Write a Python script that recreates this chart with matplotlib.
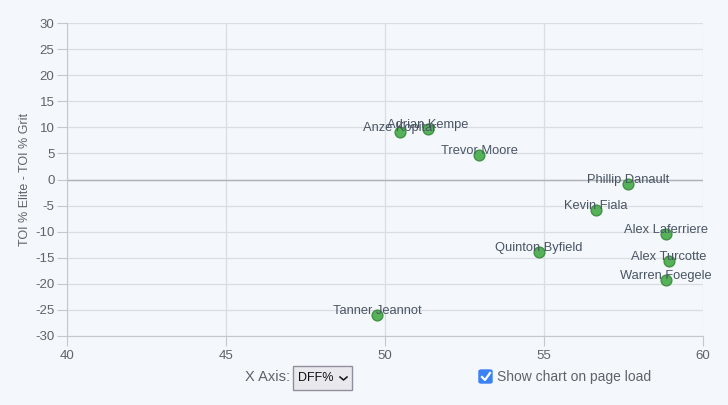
import matplotlib.pyplot as plt
from matplotlib.patches import FancyBboxPatch
from matplotlib.lines import Line2D

plt.rcParams['font.family'] = ['Liberation Sans', 'DejaVu Sans']
plt.rcParams['axes.unicode_minus'] = False

# Player data (DFF% vs TOI% Elite - TOI% Grit)
players = ['Anze Kopitar', 'Adrian Kempe', 'Trevor Moore', 'Phillip Danault',
           'Kevin Fiala', 'Alex Laferriere', 'Alex Turcotte', 'Warren Foegele',
           'Quinton Byfield', 'Tanner Jeannot']
dff = [50.47, 51.35, 52.96, 57.64, 56.64, 58.84, 58.93, 58.84, 54.84, 49.75]
toi_diff = [9.1, 9.7, 4.7, -0.9, -5.8, -10.4, -15.6, -19.3, -13.9, -26.0]

x_ticks = [40, 45, 50, 55, 60]
y_ticks = list(range(-30, 31, 5))

bg = '#f4f7fb'
text_col = '#5f6368'

fig = plt.figure(figsize=(7.28, 4.05), dpi=100, facecolor=bg)
ax = fig.add_axes([67/728, 1 - 336/405, (703-67)/728, (336-23)/405])
ax.set_facecolor(bg)

ax.set_xlim(40, 60)
ax.set_ylim(-30, 30)
ax.set_xticks(x_ticks)
ax.set_yticks(y_ticks)
ax.grid(True, color='#dadee3', linewidth=0.9)
ax.set_axisbelow(True)
ax.axhline(0, color='#aeb2b6', linewidth=1, zorder=1)

for s in ['top', 'right']:
    ax.spines[s].set_visible(False)
ax.spines['left'].set_color('#c4c8cc')
ax.spines['bottom'].set_color('#c4c8cc')
ax.tick_params(axis='y', length=7, color='#c4c8cc', labelsize=9.5, labelcolor=text_col, pad=2)
ax.tick_params(axis='x', length=7, color='#c4c8cc', labelsize=9.5, labelcolor=text_col, pad=3)

ax.set_ylabel('TOI % Elite - TOI % Grit', fontsize=9, color=text_col, labelpad=3)

ax.scatter(dff, toi_diff, s=60, color='#4caf50', edgecolor='#3d8f40', linewidth=1, zorder=3, alpha=0.95)
for name, x, y in zip(players, dff, toi_diff):
    ax.annotate(name, (x, y), xytext=(0, 3), textcoords='offset points',
                ha='center', va='center', fontsize=9.3, color='#4a5563', zorder=4)

# Controls below the chart
fig.text(245/728, 1 - 377/405, 'X Axis:', fontsize=10.5, color=text_col, va='center')
fig.patches.append(FancyBboxPatch((293/728, 1 - 390/405), 59/728, 24/405,
                                  boxstyle='square,pad=0', transform=fig.transFigure,
                                  facecolor='#e9e9ed', edgecolor='#8f8f9d', linewidth=1))
fig.text(298/728, 1 - 378/405, 'DFF%', fontsize=9, color='#111111', va='center')
fig.lines.append(Line2D([340/728, 343.5/728, 347/728], [1 - 377/405, 1 - 380/405, 1 - 377/405],
                        transform=fig.transFigure, color='#111111', linewidth=1.1))
fig.patches.append(FancyBboxPatch((479/728, 1 - 383/405), 13/728, 13/405,
                                  boxstyle='round,pad=0,rounding_size=0.003', transform=fig.transFigure,
                                  facecolor='#3b82f6', edgecolor='#3b82f6'))
fig.lines.append(Line2D([482/728, 485/728, 490/728], [1 - 377/405, 1 - 380/405, 1 - 373/405],
                        transform=fig.transFigure, color='white', linewidth=1.6))
fig.text(497/728, 1 - 377/405, 'Show chart on page load', fontsize=10, color=text_col, va='center')

plt.savefig('out.png', dpi=100, facecolor=bg)
